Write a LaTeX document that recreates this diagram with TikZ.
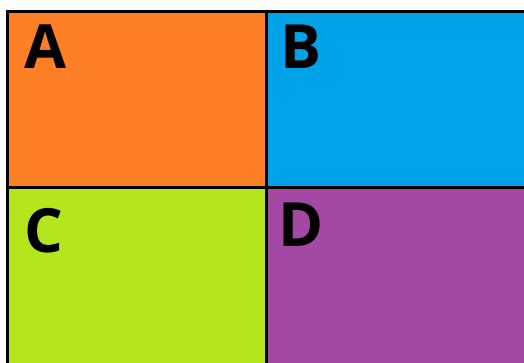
\documentclass[tikz,border=0pt]{standalone}
\usepackage{fontspec}
\setsansfont{Open Sans}
\usepackage{tikz}
\usetikzlibrary{positioning}
\definecolor{paintorange}{HTML}{FF7F27}
\definecolor{paintblue}{HTML}{00A2E8}
\definecolor{paintlime}{HTML}{B5E61D}
\definecolor{paintpurple}{HTML}{A349A4}

\begin{document}
\begin{tikzpicture}[
  x=1pt, y=-1pt,
  quad/.style={rectangle, draw=black, line width=3.5pt,
               minimum width=259pt, minimum height=176pt,
               inner sep=0pt, outer sep=0pt, anchor=north west},
  rightquad/.style={quad, minimum width=260pt},
  lowquad/.style={minimum height=190pt},
  letter/.style={font=\sffamily\bfseries\fontsize{61}{70}\selectfont,
                 inner sep=0pt, outer sep=0pt}
]
  \useasboundingbox (0,0) rectangle (524,363);

  \node[quad, fill=paintorange]                (qa) at (7.5,11.5) {};
  \node[rightquad, fill=paintblue]             (qb) at (qa.north east) {};
  \node[quad, lowquad, fill=paintlime]         (qc) at (qa.south west) {};
  \node[rightquad, lowquad, fill=paintpurple]  (qd) at (qa.south east) {};
  % redraw the shared lines on top
  \draw[line width=3.5pt] (qa.north west) -- (qb.north east);
  \draw[line width=3.5pt] (qa.north east) -- (qd.south west);

  \node[letter, below right=13pt and 16.5pt of qa.north west] (la) {A};
  \node[letter, below right=13.5pt and 13.5pt of qb.north west] (lb) {B};
  \node[letter, below right=20.5pt and 16.8pt of qc.north west] (lc) {C};
  \node[letter, below right=15.5pt and 11.5pt of qd.north west] (ld) {D};

\end{tikzpicture}
\end{document}
